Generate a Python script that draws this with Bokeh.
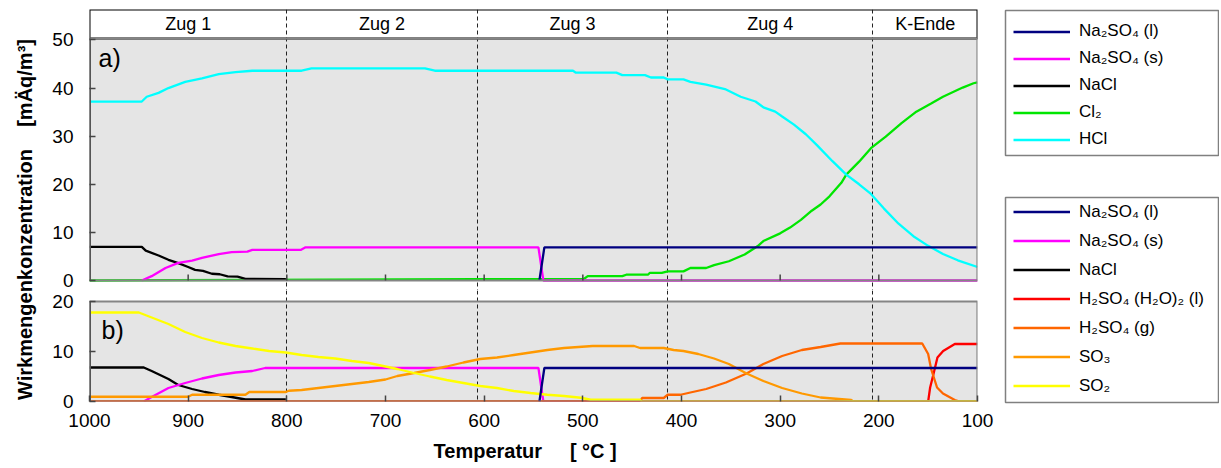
import math
import numpy as np
from bokeh.plotting import figure
from bokeh.layouts import row, column
from bokeh.models import Range1d, FixedTicker, Label, Legend, LegendItem
from bokeh.embed import file_html
from bokeh.resources import INLINE
from bokeh.core.properties import value

FONT = "Liberation Sans"

# ---------------- data ----------------
zones = ["Zug 1", "Zug 2", "Zug 3", "Zug 4", "K-Ende"]
zone_edges = [1000, 800, 607, 414, 206, 100]
x_ticks = [1000, 900, 800, 700, 600, 500, 400, 300, 200, 100]
ya_ticks = [0, 10, 20, 30, 40, 50]
yb_ticks = [0, 10, 20]

# panel a)
t_na2so4_l_a = [544, 539, 100]
na2so4_l_a = [0.0, 6.9, 6.9]
t_na2so4_s_a = [947, 937, 923, 910, 896, 886, 869, 856, 840, 835, 786, 781, 545, 540, 100]
na2so4_s_a = [0.0, 0.9, 2.6, 3.65, 4.15, 4.7, 5.5, 5.9, 6.0, 6.35, 6.35, 6.9, 6.9, 0.0, 0.0]
t_nacl_a = [1000, 947, 943, 930, 920, 910, 900, 893, 885, 876, 868, 860, 850, 842, 801]
nacl_a = [7.0, 7.0, 6.2, 5.2, 4.3, 3.6, 2.8, 2.2, 2.0, 1.4, 1.3, 0.85, 0.8, 0.35, 0.3]
t_cl2 = [1000, 609, 499, 495, 460, 456, 434, 432, 420, 414, 398, 391, 375, 367, 352, 336,
         323, 317, 300, 290, 279, 268, 259, 250, 238, 233, 220, 208, 193, 177, 162, 147,
         135, 115, 104, 100]
cl2 = [0.0, 0.3, 0.3, 0.9, 0.9, 1.2, 1.2, 1.6, 1.6, 1.9, 1.9, 2.6, 2.6, 3.2, 4.0, 5.4,
       7.1, 8.2, 9.8, 11.0, 12.6, 14.5, 15.8, 17.5, 20.3, 22.0, 24.7, 27.5, 29.9, 32.7, 35.1, 36.8,
       38.2, 40.1, 41.0, 41.2]
t_hcl = [1000, 947, 942, 930, 920, 903, 886, 869, 852, 835, 785, 775, 660, 650, 510, 507,
         466, 460, 437, 431, 418, 414, 398, 391, 375, 356, 340, 325, 317, 305, 298, 286,
         274, 263, 247, 233, 220, 208, 195, 180, 165, 150, 135, 120, 100]
hcl = [37.2, 37.2, 38.2, 39.0, 40.0, 41.3, 42.0, 42.9, 43.3, 43.6, 43.6, 44.1, 44.1, 43.6, 43.6, 43.2,
       43.2, 42.7, 42.7, 42.2, 42.2, 41.8, 41.8, 41.3, 40.7, 39.8, 38.2, 37.2, 36.0, 35.1, 34.1, 32.4,
       30.4, 28.2, 24.8, 22.0, 20.0, 18.0, 15.0, 11.8, 9.2, 7.2, 5.5, 4.2, 2.8]

# panel b)
t_na2so4_l_b = [544, 539, 100]
na2so4_l_b = [0.0, 6.7, 6.7]
t_na2so4_s_b = [945, 937, 920, 903, 886, 869, 852, 835, 822, 545, 540, 100]
na2so4_s_b = [0.0, 0.9, 2.7, 3.7, 4.6, 5.3, 5.8, 6.1, 6.7, 6.7, 0.0, 0.0]
t_nacl_b = [1000, 945, 937, 920, 910, 896, 883, 869, 856, 842, 801]
nacl_b = [6.8, 6.8, 6.1, 4.5, 3.3, 2.5, 1.9, 1.35, 0.9, 0.4, 0.4]
t_h2so4_h2o = [1000, 150, 148, 144.6, 140.6, 134.8, 123, 100]
h2so4_h2o = [0.0, 0.0, 2.8, 5.5, 8.8, 10.1, 11.5, 11.5]
t_h2so4_g = [1000, 442, 440, 418, 414, 401, 391, 375, 355, 334, 317, 298, 278, 259, 239,
             156, 150, 147, 141, 135, 123, 118, 100]
h2so4_g = [0.0, 0.0, 0.7, 0.7, 1.35, 1.35, 1.8, 2.5, 3.8, 5.6, 7.5, 9.1, 10.3, 10.9, 11.6,
           11.6, 9.5, 6.5, 2.8, 1.6, 0.3, 0.0, 0.0]
t_so3 = [1000, 900, 896, 842, 838, 801, 798, 785, 768, 751, 734, 717, 700, 688, 671, 655,
         638, 621, 604, 587, 570, 553, 536, 519, 490, 448, 442, 418, 408, 398, 383, 367,
         352, 334, 317, 298, 278, 259, 228, 226, 100]
so3 = [0.95, 0.95, 1.35, 1.35, 1.9, 1.9, 2.15, 2.3, 2.7, 3.1, 3.5, 3.9, 4.4, 5.1, 5.7, 6.3,
       7.0, 7.8, 8.5, 8.8, 9.3, 9.8, 10.3, 10.7, 11.1, 11.1, 10.7, 10.7, 10.3, 10.1, 9.5, 8.6,
       7.5, 5.6, 4.1, 2.7, 1.6, 0.8, 0.3, 0.0, 0.0]
t_so2 = [1000, 950, 937, 920, 903, 886, 869, 852, 835, 818, 801, 785, 768, 751, 734, 717,
         700, 688, 671, 655, 638, 621, 604, 587, 570, 553, 536, 519, 502, 492, 442, 440, 100]
so2 = [17.8, 17.8, 16.8, 15.5, 13.9, 12.7, 11.8, 11.1, 10.6, 10.1, 9.8, 9.3, 8.9, 8.6, 8.1, 7.7,
       7.0, 6.5, 5.7, 5.0, 4.3, 3.7, 3.1, 2.7, 2.1, 1.7, 1.35, 1.1, 0.75, 0.35, 0.35, 0.0, 0.0]

legend_a = [("Na\u2082SO\u2084 (l)", "#000080"), ("Na\u2082SO\u2084 (s)", "#ff00ff"),
            ("NaCl", "#000000"), ("Cl\u2082", "#00e600"), ("HCl", "#00ffff")]
legend_b = [("Na\u2082SO\u2084 (l)", "#000080"), ("Na\u2082SO\u2084 (s)", "#ff00ff"),
            ("NaCl", "#000000"), ("H\u2082SO\u2084 (H\u2082O)\u2082 (l)", "#ff0000"),
            ("H\u2082SO\u2084 (g)", "#ff6600"), ("SO\u2083", "#ff9900"), ("SO\u2082", "#ffff00")]

# ---------------- figures ----------------
X_LO, X_HI = 1000, 100
YA_TOP = 50.3          # top of panel a
YA_HDR = 56.33         # top of the "Zug" band drawn above panel a
YA_BOT = -2.08         # white gap below panel a
YB_TOP = 20.0
YB_GAP = 22.2          # white gap above panel b
x_range = Range1d(X_LO, X_HI)
FW = 888
LB, RB = 51, 20
BG = "#e5e5e5"
LW = 2.3
BORDER = "#858585"


def style_axes(p, yticks):
    p.grid.visible = False
    p.outline_line_color = None
    for ax in p.axis:
        ax.axis_line_color = None
        ax.major_tick_in = 6
        ax.major_tick_out = 0
        ax.major_tick_line_color = "#444444"
        ax.major_tick_line_width = 1.5
        ax.minor_tick_line_color = None
        ax.major_label_text_font = FONT
        ax.major_label_text_font_size = "19px"
        ax.major_label_text_color = "#000000"
    p.xaxis.ticker = FixedTicker(ticks=x_ticks)
    p.yaxis.ticker = FixedTicker(ticks=yticks)
    p.yaxis.major_label_standoff = 16


def zone_lines(p):
    p.vspan(x=zone_edges[1:-1], line_color="#222222", line_dash="4 3", line_width=1)


def panel_box(p, top, fill):
    if fill:
        p.quad(left=[X_LO], right=[X_HI], bottom=[0], top=[top], fill_color=BG, line_color=None)
    else:
        p.quad(left=[X_LO], right=[X_HI], bottom=[0], top=[top], fill_color=None,
               line_color=BORDER, line_width=2.2)
        # darker left edge of the panel
        p.segment(x0=[X_LO], y0=[0], x1=[X_LO], y1=[top], line_color="#555555", line_width=3)


# panel a (with the "Zug" band above it)
pa = figure(frame_width=FW, frame_height=281, min_border_left=LB, min_border_right=RB,
            min_border_top=9, min_border_bottom=0, x_range=x_range,
            y_range=Range1d(YA_BOT, YA_HDR), toolbar_location=None, output_backend="svg",
            background_fill_color="white")
style_axes(pa, ya_ticks)
pa.xaxis.visible = False
panel_box(pa, YA_TOP, True)
pa.quad(left=[X_LO], right=[X_HI], bottom=[YA_TOP], top=[YA_HDR], fill_color="white",
        line_color="#000000", line_width=2)
zone_lines(pa)
centers = [(a + b) / 2 for a, b in zip(zone_edges[:-1], zone_edges[1:])]
pa.text(x=centers, y=[(YA_TOP + YA_HDR) / 2] * len(zones), text=zones, text_align="center",
        text_baseline="middle", text_font=value(FONT), text_font_size="18px",
        text_color="#000000")
pa.line(t_cl2, cl2, line_color="#00e600", line_width=LW)
pa.line(t_hcl, hcl, line_color="#00ffff", line_width=LW)
pa.line(t_nacl_a, nacl_a, line_color="#000000", line_width=LW)
pa.line(t_na2so4_s_a, na2so4_s_a, line_color="#ff00ff", line_width=LW)
pa.line(t_na2so4_l_a, na2so4_l_a, line_color="#000080", line_width=LW)
panel_box(pa, YA_TOP, False)
# inner x ticks of panel a
pa.ray(x=x_ticks[1:-1], y=[0] * (len(x_ticks) - 2), length=6, length_units="screen",
       angle=math.pi / 2, line_color="#444444", line_width=1.5)
pa.add_layout(Label(x=9, y=233, x_units="screen", y_units="screen", text="a)",
                    text_font=FONT, text_font_size="25px", text_baseline="middle",
                    text_color="#000000"))

# panel b
pb = figure(frame_width=FW, frame_height=111, min_border_left=LB, min_border_right=RB,
            min_border_top=0, min_border_bottom=66, x_range=x_range,
            y_range=Range1d(0, YB_GAP), toolbar_location=None, output_backend="svg",
            background_fill_color="white")
style_axes(pb, yb_ticks)
pb.xaxis.major_label_standoff = 12
pb.xaxis.axis_label = "Temperatur" + "\u00a0" * 5 + "[\u00a0°C\u00a0]" + "\u00a0" * 3
pb.xaxis.axis_label_text_font = FONT
pb.xaxis.axis_label_text_font_size = "20px"
pb.xaxis.axis_label_text_font_style = "bold"
pb.xaxis.axis_label_text_color = "#000000"
pb.xaxis.axis_label_standoff = 10
panel_box(pb, YB_TOP, True)
zone_lines(pb)
pb.line(t_nacl_b, nacl_b, line_color="#000000", line_width=LW)
pb.line(t_na2so4_s_b, na2so4_s_b, line_color="#ff00ff", line_width=LW)
pb.line(t_h2so4_h2o, h2so4_h2o, line_color="#ff0000", line_width=LW)
pb.line(t_h2so4_g, h2so4_g, line_color="#ff6600", line_width=LW)
pb.line(t_so3, so3, line_color="#ff9900", line_width=LW)
pb.line(t_so2, so2, line_color="#ffff00", line_width=LW)
pb.line(t_na2so4_l_b, na2so4_l_b, line_color="#000080", line_width=LW)
panel_box(pb, YB_TOP, False)
pb.add_layout(Label(x=12, y=72, x_units="screen", y_units="screen", text="b)",
                    text_font=FONT, text_font_size="25px", text_baseline="middle",
                    text_color="#000000"))

# y label
yl = figure(width=38, height=467, x_axis_type=None, y_axis_type=None, toolbar_location=None,
            output_backend="svg", min_border=0, x_range=Range1d(0, 1), y_range=Range1d(0, 1))
yl.outline_line_color = None
yl.add_layout(Label(x=24, y=248, x_units="screen", y_units="screen",
                    text="Wirkmengenkonzentration" + "\u00a0" * 4 + "[mÄq/m³]",
                    angle=math.pi / 2, text_align="center", text_baseline="middle",
                    text_font=FONT, text_font_size="20px", text_font_style="bold",
                    text_color="#000000"))


def legend_fig(top, frame_h, bottom, entries, spacing, loc_y):
    f = figure(frame_width=213, frame_height=frame_h, min_border_left=8, min_border_right=1,
               min_border_top=top, min_border_bottom=bottom, x_axis_type=None, y_axis_type=None,
               toolbar_location=None, output_backend="svg", x_range=Range1d(0, 1),
               y_range=Range1d(0, 1))
    f.outline_line_color = "#808080"
    f.outline_line_width = 1.5
    items = []
    for label, color in entries:
        r = f.line(x=np.array([np.nan]), y=np.array([np.nan]), line_color=color, line_width=2.5)
        items.append(LegendItem(label=label, renderers=[r]))
    leg = Legend(items=items, location=(8, loc_y), margin=0, padding=0, spacing=spacing,
                 glyph_width=57, glyph_height=21, label_height=21, label_standoff=9,
                 label_text_font=FONT, label_text_font_size="17px",
                 label_text_color="#000000", border_line_color=None,
                 background_fill_alpha=0)
    f.add_layout(leg)
    return f


l1 = legend_fig(10, 145, 41, legend_a, 6, 5.5)
l2 = legend_fig(1, 205, 65, legend_b, 8, 5.8)

layout = row(yl, column(pa, pb), column(l1, l2))
open("out.html", "w").write(file_html(layout, INLINE))
